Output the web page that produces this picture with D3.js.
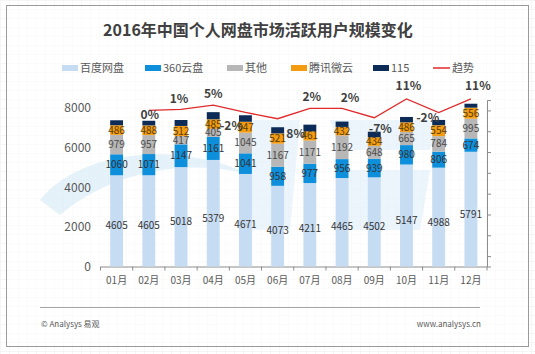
<!DOCTYPE html>
<html>
<head>
<meta charset="utf-8">
<script src="https://cdn.jsdelivr.net/npm/d3@7"></script>
<style>
  body { margin: 0; background: #fff; }
  svg text { font-family: "Microsoft YaHei", "Noto Sans CJK SC", "DejaVu Sans", sans-serif; }
</style>
</head>
<body>
<div id="chart"></div>
<script>
// data
var months = ["01月","02月","03月","04月","05月","06月","07月","08月","09月","10月","11月","12月"];
var seriesNames = ["百度网盘","360云盘","其他","腾讯微云","115"];
var baidu   = [4605,4605,5018,5379,4671,4073,4211,4465,4502,5147,4988,5791];
var yun360  = [1060,1071,1147,1161,1041,958,977,956,939,980,806,674];
var other   = [979,957,417,405,1045,1167,1171,1192,648,665,784,995];
var weiyun  = [486,488,512,485,547,521,461,432,434,486,554,556];
var s115    = [250,235,300,360,330,310,340,270,280,270,265,200];
var trend   = [null,0,1,5,-2,-8,2,2,-7,11,-2,11];
var trendLabels = ["","0%","1%","5%","-2%","8%","2%","2%","-7%","11%","-2%","11%"];
var yTicks = [0,2000,4000,6000,8000];

var colors = ["#c6dcf2","#0d8fdb","#b7b7b7","#f39c12","#0d2b57"];

var W = 535, H = 354;
var svg = d3.select("#chart").append("svg").attr("width", W).attr("height", H);

// graph paper background
var defs = svg.append("defs");
var pat = defs.append("pattern").attr("id","grid").attr("width",9).attr("height",9)
  .attr("patternUnits","userSpaceOnUse");
pat.append("path").attr("d","M9 0 L0 0 0 9").attr("fill","none").attr("stroke","#eeeeee").attr("stroke-width",1);
svg.append("rect").attr("width",W).attr("height",H).attr("fill","url(#grid)");

// frame
svg.append("rect").attr("x",6.5).attr("y",5.5).attr("width",522).attr("height",341)
  .attr("fill","#fff").attr("fill-opacity",0.55).attr("stroke","#9a9a9a").attr("stroke-width",1);

// watermark swoosh (shapes only)
var wm = svg.append("g").attr("opacity",0.5);
wm.append("path").attr("d","M40 200 C 80 150, 180 140, 250 175 C 200 160, 120 165, 60 215 Z")
  .attr("fill","#cfe6f5");
wm.append("path").attr("d","M250 120 L 300 120 L 290 230 L 240 230 Z").attr("fill","#d9ecf8");
wm.append("path").attr("d","M330 120 L 440 120 L 430 150 L 340 150 Z M 350 170 L 430 170 L 420 230 L 340 230 Z")
  .attr("fill","#d9ecf8");

// title
svg.append("text").attr("x",258).attr("y",36).attr("text-anchor","middle")
  .style("font-size","16px").style("font-weight","bold").attr("fill","#404040")
  .text("2016年中国个人网盘市场活跃用户规模变化");

// legend
var legendX = [62,145,227,291,373,433];
seriesNames.forEach(function(n,i){
  svg.append("rect").attr("x",legendX[i]).attr("y",65).attr("width",16).attr("height",6).attr("fill",colors[i]);
  svg.append("text").attr("x",legendX[i]+18).attr("y",72).style("font-size","11px").attr("fill","#595959").text(n);
});
svg.append("line").attr("x1",legendX[5]).attr("x2",legendX[5]+17).attr("y1",68).attr("y2",68)
  .attr("stroke","#e02a2a").attr("stroke-width",1.5);
svg.append("text").attr("x",legendX[5]+19).attr("y",72).style("font-size","11px").attr("fill","#595959").text("趋势");

// scales
var x = d3.scaleBand().domain(months).range([100.5,487]).paddingInner(0.6).paddingOuter(0.3);
var xc = function(m){ return x(m) + x.bandwidth()/2; };
var y = d3.scaleLinear().domain([0,8000]).range([266.5,108]);
var y2 = d3.scaleLinear().domain([-150,10]).range([266.5,100]);

// left axis labels
svg.append("g").attr("transform","translate(91,0)")
  .call(d3.axisLeft(y).tickValues(yTicks).tickSize(0).tickPadding(0).tickFormat(d3.format("d")))
  .call(function(g){ g.select(".domain").remove(); })
  .selectAll("text").style("font-size","12px").attr("fill","#595959");

// x axis
var xg = svg.append("g").attr("transform","translate(0,266.5)")
  .call(d3.axisBottom(x).tickSize(0).tickPadding(10));
xg.select(".domain").attr("stroke","#8c8c8c");
xg.selectAll("text").style("font-size","10px").attr("fill","#595959");
var bandStep = x.step();
var xTicks = d3.range(13).map(function(i){ return 100.5 + i*bandStep; });
xg.selectAll(".sep").data(xTicks).enter().append("line")
  .attr("x1",function(d){return d;}).attr("x2",function(d){return d;})
  .attr("y1",0).attr("y2",4).attr("stroke","#8c8c8c");

// right axis (no labels)
var rg = svg.append("g").attr("transform","translate(487,0)")
  .call(d3.axisRight(y2).ticks(8).tickSize(4).tickFormat(""));
rg.select(".domain").attr("stroke","#8c8c8c");
rg.selectAll("line").attr("stroke","#8c8c8c");

// stacked bars
var rows = months.map(function(m,i){
  return {month:m, b:baidu[i], s:yun360[i], o:other[i], w:weiyun[i], t:s115[i]};
});
var stack = d3.stack().keys(["b","s","o","w","t"]);
var layers = stack(rows);

var gBars = svg.append("g");
layers.forEach(function(layer,li){
  gBars.selectAll(".bar"+li).data(layer).enter().append("rect")
    .attr("x",function(d){ return x(d.data.month); })
    .attr("width",x.bandwidth())
    .attr("y",function(d){ return y(d[1]); })
    .attr("height",function(d){ return y(d[0]) - y(d[1]); })
    .attr("fill",colors[li]);
});

// value labels (not for 115)
var labelColors = ["#333","#333","#4a4a4a","#5a3c00"];
layers.slice(0,4).forEach(function(layer,li){
  gBars.selectAll(".lab"+li).data(layer).enter().append("text")
    .attr("x",function(d){ return xc(d.data.month); })
    .attr("y",function(d){
      var mid = li === 0 ? y(d[1]) + (y(d[0]) - y(d[1]))*0.55 : (y(d[0]) + y(d[1]))/2;
      return mid + 3.5;
    })
    .attr("text-anchor","middle").style("font-size","10px").attr("fill",labelColors[li])
    .text(function(d){ return d[1]-d[0]; });
});

// trend line
var pts = months.map(function(m,i){ return {m:m, v:trend[i], lab:trendLabels[i]}; })
  .filter(function(d){ return d.v !== null; });
svg.append("path").datum(pts)
  .attr("fill","none").attr("stroke","#e02a2a").attr("stroke-width",1.3)
  .attr("d", d3.line().x(function(d){ return xc(d.m); }).y(function(d){ return y2(d.v); }));

// trend labels, placement per point: [dx, dy]
var place = {"02月":[1,5],"03月":[-2,-10],"04月":[0,-11],"05月":[-14,14],"06月":[18,15],
  "07月":[2,-11],"08月":[8,-10],"09月":[6,11],"10月":[2,-13],"11月":[-11,6],"12月":[7,-13]};
svg.append("g").selectAll("text").data(pts).enter().append("text")
  .attr("x",function(d){ return xc(d.m) + place[d.m][0]; })
  .attr("y",function(d){ return y2(d.v) + place[d.m][1] + 4; })
  .attr("text-anchor","middle").style("font-size","12px").style("font-weight","bold")
  .attr("fill","#404040").text(function(d){ return d.lab; });

// footer
svg.append("line").attr("x1",40).attr("x2",480).attr("y1",307.5).attr("y2",307.5)
  .attr("stroke","#a6a6a6").attr("stroke-width",1);
svg.append("text").attr("x",41).attr("y",327).style("font-size","8px").attr("fill","#595959").text("© Analysys 易观");
svg.append("text").attr("x",481).attr("y",327).attr("text-anchor","end").style("font-size","8px").attr("fill","#595959").text("www.analysys.cn");
</script>
</body>
</html>
